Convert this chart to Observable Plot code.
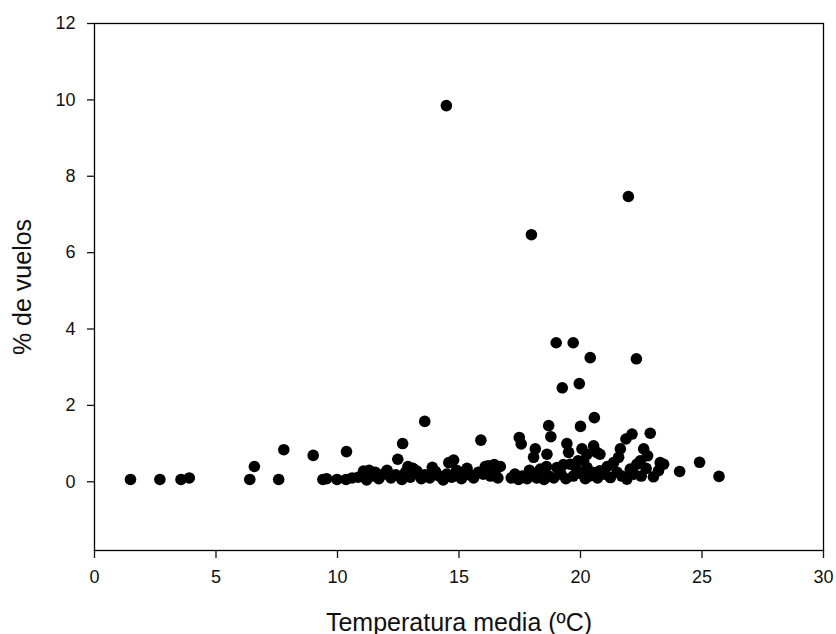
<!DOCTYPE html>
<html>
<head>
<meta charset="utf-8">
<script src="https://cdn.jsdelivr.net/npm/d3@7"></script>
<script src="https://cdn.jsdelivr.net/npm/@observablehq/plot@0.6"></script>
<style>
  html, body { margin: 0; padding: 0; background: #fff; }
  #chart svg { display: block; }
</style>
</head>
<body>
<div id="chart"></div>
<script>
// Temperatura media (ºC)
const temperatura = [
  1.48, 2.69, 3.56, 3.9, 6.39, 6.58, 7.58, 7.79, 9.0, 9.4, 9.55, 9.98, 10.37, 10.35, 10.6,
  10.85, 11.07, 11.2, 11.4, 11.55, 11.7, 11.9, 12.04, 12.2, 12.4, 12.65, 12.8, 13.0, 13.1, 13.27,
  13.45, 13.6, 13.8, 14.03, 14.2, 14.35, 14.5, 14.7, 14.9, 15.1, 15.33, 15.45, 15.6, 15.8, 16.0,
  16.08, 16.3, 16.5, 16.7, 16.6,
  11.3, 12.9, 13.9, 15.2, 16.2, 16.45,
  12.48, 12.68, 13.59, 14.48, 14.58, 14.78, 15.9,
  17.15, 17.3, 17.45, 17.6, 17.8, 18.0, 18.2, 18.35, 18.5, 18.7, 18.9, 19.03, 19.2, 19.4, 19.58,
  19.7, 19.85, 20.07, 20.2, 20.35, 20.54, 20.7, 20.8, 21.0, 21.23, 21.5, 21.7, 21.91, 22.05, 22.2,
  22.5, 23.0, 23.21, 24.08, 25.7,
  17.9, 18.6, 19.3, 21.1, 22.7, 19.9,
  17.48, 17.56, 17.98, 18.07, 18.14, 18.62, 18.69, 18.78, 19.0, 19.25, 19.44, 19.51, 19.7, 19.95,
  20.0, 20.06, 20.13, 20.27, 20.27, 20.4, 20.54, 20.57, 20.67, 20.8, 21.36, 21.57, 21.64, 21.87,
  21.97, 22.12, 22.3, 22.32, 22.46, 22.6, 22.76, 22.87, 23.28, 23.42, 24.9
];
// % de vuelos
const vuelos = [
  0.06, 0.06, 0.06, 0.1, 0.06, 0.4, 0.06, 0.84, 0.69, 0.06, 0.08, 0.06, 0.79, 0.06, 0.1,
  0.12, 0.28, 0.05, 0.15, 0.25, 0.08, 0.2, 0.3, 0.1, 0.18, 0.06, 0.25, 0.12, 0.35, 0.28,
  0.08, 0.18, 0.1, 0.27, 0.15, 0.05, 0.2, 0.12, 0.3, 0.08, 0.35, 0.18, 0.1, 0.25, 0.2,
  0.4, 0.15, 0.3, 0.4, 0.1,
  0.3, 0.4, 0.38, 0.25, 0.42, 0.45,
  0.59, 1.0, 1.58, 9.85, 0.5, 0.57, 1.09,
  0.1, 0.2, 0.06, 0.15, 0.08, 0.2, 0.1, 0.33, 0.06, 0.15, 0.1, 0.37, 0.2, 0.08, 0.46,
  0.15, 0.3, 0.2, 0.08, 0.15, 0.24, 0.1, 0.29, 0.2, 0.11, 0.25, 0.15, 0.07, 0.33, 0.2,
  0.15, 0.13, 0.29, 0.27, 0.14,
  0.3, 0.4, 0.45, 0.4, 0.35, 0.55,
  1.16, 0.99, 6.47, 0.64, 0.86, 0.72, 1.47, 1.18, 3.64, 2.46, 1.0, 0.77, 3.64, 2.57,
  1.45, 0.86, 0.55, 0.72, 0.37, 3.25, 0.94, 1.68, 0.77, 0.72, 0.5, 0.64, 0.86, 1.12,
  7.47, 1.25, 3.22, 0.46, 0.55, 0.86, 0.68, 1.27, 0.5, 0.46, 0.51
];
const xTicks = [0, 5, 10, 15, 20, 25, 30];
const yTicks = [0, 2, 4, 6, 8, 10, 12];
const xTitle = "Temperatura media (ºC)";
const yTitle = "% de vuelos";

const data = temperatura.map((t, i) => ({t, v: vuelos[i]}));

const chart = Plot.plot({
  width: 836,
  height: 634,
  marginLeft: 94,
  marginRight: 13,
  marginTop: 23,
  marginBottom: 84,
  style: {fontFamily: "'Liberation Sans', Arial, sans-serif", fontSize: "18px", color: "#111", background: "#fff"},
  x: {domain: [0, 30]},
  y: {domain: [-1.8, 12]},
  marks: [
    Plot.frame({stroke: "#000", strokeWidth: 1.3}),
    Plot.axisX({ticks: xTicks, tickSize: 8, tickPadding: 12, label: null, fontSize: 18, tickFormat: d => String(d), strokeWidth: 1.3}),
    Plot.axisY({ticks: yTicks, tickSize: 7, tickPadding: 12, label: null, fontSize: 18, tickFormat: d => String(d), strokeWidth: 1.3}),
    Plot.text([xTitle], {text: d => d, frameAnchor: "bottom", dy: 72, fontSize: 25, textAnchor: "middle", lineAnchor: "middle"}),
    Plot.text([yTitle], {text: d => d, frameAnchor: "left", dx: -72, rotate: -90, fontSize: 25, textAnchor: "middle", lineAnchor: "middle"}),
    Plot.dot(data, {x: "t", y: "v", r: 5.8, fill: "#000", stroke: null})
  ]
});
document.getElementById("chart").appendChild(chart);
</script>
</body>
</html>
